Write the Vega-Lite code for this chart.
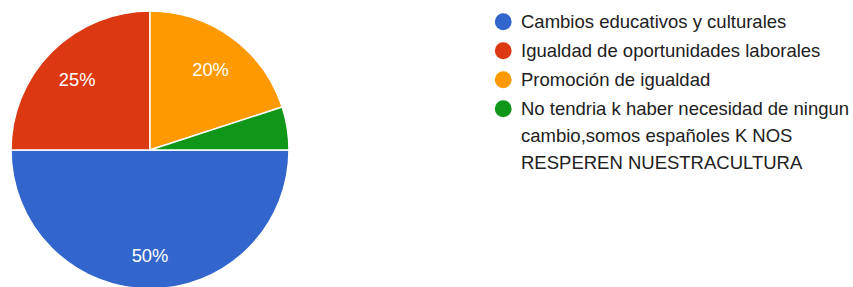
{
  "$schema": "https://vega.github.io/schema/vega-lite/v6.json",
  "width": 278,
  "height": 278,
  "padding": {"left": 8, "top": 8, "right": 0, "bottom": 0},
  "background": "white",
  "config": {
    "view": {"stroke": null},
    "font": "Liberation Sans",
    "style": {"guide-label": {"lineHeight": 27}}
  },
  "data": {
    "values": [
      {"idx": 1, "category": "Cambios educativos y culturales", "pct": 0.50},
      {"idx": 2, "category": "Igualdad de oportunidades laborales", "pct": 0.25},
      {"idx": 3, "category": "Promoción de igualdad", "pct": 0.20},
      {"idx": 4, "category": "No tendria k haber necesidad de ningun cambio,somos españoles K NOS RESPEREN NUESTRACULTURA", "pct": 0.05}
    ]
  },
  "encoding": {
    "theta": {"field": "pct", "type": "quantitative", "stack": true, "scale": {"range": [1.5707963, 7.8539816]}},
    "order": {"field": "idx", "type": "quantitative"}
  },
  "layer": [
    {
      "mark": {"type": "arc", "stroke": "white", "strokeWidth": 1.5},
      "encoding": {
        "color": {
          "field": "category",
          "type": "nominal",
          "scale": {
            "domain": [
              "Cambios educativos y culturales",
              "Igualdad de oportunidades laborales",
              "Promoción de igualdad",
              "No tendria k haber necesidad de ningun cambio,somos españoles K NOS RESPEREN NUESTRACULTURA"
            ],
            "range": ["#3366CC", "#DC3912", "#FF9900", "#109618"]
          },
          "legend": {
            "title": null,
            "orient": "none",
            "legendX": 483,
            "legendY": 1.5,
            "padding": 0,
            "symbolType": "circle",
            "symbolSize": 283,
            "symbolStrokeWidth": 0,
            "labelFontSize": 18.5,
            "labelColor": "#212121",
            "labelFont": "Liberation Sans",
            "labelOffset": 8.5,
            "labelLimit": 400,
            "rowPadding": 10,
            "labelExpr": "datum.label == 'No tendria k haber necesidad de ningun cambio,somos españoles K NOS RESPEREN NUESTRACULTURA' ? ['No tendria k haber necesidad de ningun', 'cambio,somos españoles K NOS', 'RESPEREN NUESTRACULTURA'] : datum.label"
          }
        }
      }
    },
    {
      "mark": {"type": "text", "radius": 103, "dy": 4, "fontSize": 18.3, "color": "white", "font": "Liberation Sans"},
      "encoding": {
        "text": {
          "field": "pct",
          "type": "quantitative",
          "format": ".0%",
          "condition": {"test": "datum.pct < 0.1", "value": ""}
        }
      }
    }
  ]
}
